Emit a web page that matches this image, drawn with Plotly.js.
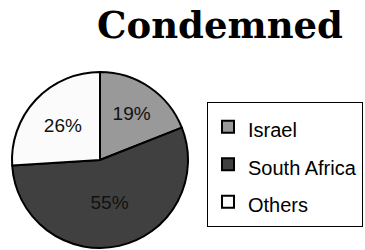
<!DOCTYPE html>
<html><head><meta charset="utf-8">
<script src="https://cdn.plot.ly/plotly-3.0.1.min.js"></script>
<style>html,body{margin:0;padding:0;background:#fff}#c{width:365px;height:250px}</style>
</head><body><div id="c"></div>
<script>
const categories = ["Israel", "South Africa", "Others"];
const values = [19, 55, 26];
const colors = ["#999999", "#404040", "#fbfbfb"];

Plotly.newPlot("c", [{
  type: "pie",
  labels: categories.map(c => '<span style="font-size:20px">' + c + '</span>'),
  values: values,
  sort: false,
  direction: "clockwise",
  rotation: 0,
  marker: {colors: colors, line: {color: "#000", width: 2}},
  textinfo: "percent",
  textposition: "inside",
  insidetextorientation: "horizontal",
  textfont: {family: "Liberation Sans, Arial, sans-serif", size: 19, color: "#111"},
  domain: {x: [12/365, 188/365], y: [0.008, 0.712]},
  hoverinfo: "none"
}], {
  width: 365, height: 250,
  margin: {l: 0, r: 0, t: 0, b: 0},
  paper_bgcolor: "#fff",
  title: {text: "<b>Condemned</b>", font: {family: "DejaVu Serif, serif", size: 37, color: "#000"},
    x: 220/365, xanchor: "center", y: 1 - 25/250, yanchor: "middle"},
  showlegend: true,
  legend: {x: 207/365, y: 1 - 102/250, xanchor: "left", yanchor: "top",
    bgcolor: "#fff", bordercolor: "#000", borderwidth: 1,
    font: {family: "Liberation Sans, Arial, sans-serif", size: 26.5, color: "#000"}}
}, {displayModeBar: false, staticPlot: true});
</script></body></html>
